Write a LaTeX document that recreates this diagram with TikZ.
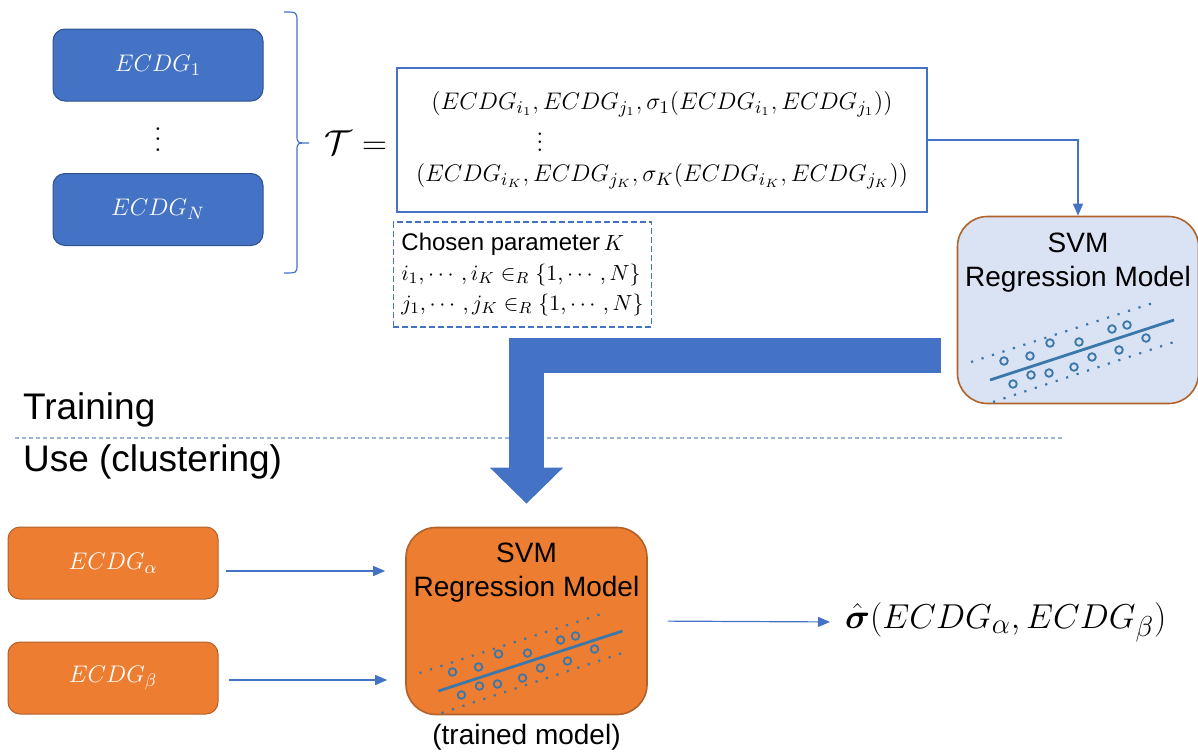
\documentclass[tikz,border=0pt]{standalone}
\usepackage{amsmath,amssymb}
\usepackage[no-math]{fontspec}
\usepackage{bm}
\setsansfont{Liberation Sans}
\usetikzlibrary{arrows.meta,positioning}

\definecolor{ecdgblue}{HTML}{4472C4}
\definecolor{ecdgblueline}{HTML}{2F528F}
\definecolor{ecdgorange}{HTML}{ED7D31}
\definecolor{orangeline}{HTML}{B0622A}
\definecolor{svmfill}{HTML}{DAE3F3}
\definecolor{plotblue}{HTML}{3A78AC}
\definecolor{sepblue}{HTML}{9DB4DE}

\begin{document}
\begin{tikzpicture}[x=0.5pt,y=-0.5pt,
    ecdg/.style={draw=ecdgblueline,fill=ecdgblue,line width=0.5pt,rounded corners=6pt,
      minimum width=105pt,minimum height=36pt,text=white,font=\fontsize{13}{15}\selectfont},
    ecdgorg/.style={ecdg,draw=orangeline,fill=ecdgorange},
    svmbox/.style={draw=orangeline,line width=0.8pt,rounded corners=15pt,
      minimum width=120.5pt,minimum height=93.5pt},
    svmtext/.style={anchor=north,align=center,font=\sffamily\fontsize{14}{17}\selectfont},
    biglabel/.style={anchor=west,font=\sffamily\fontsize{18.5}{20}\selectfont},
    flow/.style={draw=ecdgblue,line width=0.6pt,-{Triangle[length=6pt,width=5pt]}},
    dotline/.style={line width=1.1pt,dash pattern=on 1.1pt off 4.4pt},
    pics/svmplot/.style={code={
      \draw[plotblue,line width=1.4pt] (-88,70) -- (96,10);
      \draw[plotblue,dotline] (-107,52) -- (78,-8);
      \draw[plotblue,dotline] (-85,92) -- (102,30);
      \foreach \px/\py in {-74/51,-48/46,-28/33,1/32,34/19,49/15,68/28,41/40,14/47,-4/57,-29/63,-47/65,-65/74}
        \draw[plotblue,line width=0.9pt] (\px,\py) circle[radius=1.9pt];
    }}]
  \useasboundingbox (0,0) rectangle (1198,755);

  \node[ecdg] (e1) at (158,65) {$ECDG_1$};
  \node[anchor=base] (edots) at (158,151) {\scalebox{1.3}{$\vdots$}};
  \node[ecdg] (eN) at (158,209.5) {$ECDG_N$};
  \draw[ecdgblue,line width=0.6pt] (284,12) .. controls (297,12) .. (297,22) -- (297,135)
    .. controls (297,143) .. (309,143) .. controls (297,143) .. (297,151) -- (297,264)
    .. controls (297,273) .. (284,273);

  \node[font=\fontsize{18}{20}\selectfont] (teq) at (356,143) {$\mathcal{T} =$};
  \node[draw=ecdgblue,line width=1pt,minimum width=265pt,minimum height=72pt,align=center,
    font=\fontsize{13}{18}\selectfont] (tset) at (662,140)
    {$(ECDG_{i_1}, ECDG_{j_1}, \sigma_1(ECDG_{i_1}, ECDG_{j_1}))$\\
     \hspace*{-122pt}\raisebox{-3pt}{\smash{$\vdots$}}\\
     $(ECDG_{i_K}, ECDG_{j_K}, \sigma_K(ECDG_{i_K}, ECDG_{j_K}))$};
  \node[draw=ecdgblue,line width=0.7pt,dash pattern=on 3pt off 1.5pt,minimum width=125pt,
    minimum height=52.5pt,inner xsep=4pt,align=left,
    font=\fontsize{11}{15}\selectfont] (chosen) at (522.5,274.5)
    {{\sffamily\fontsize{12}{15}\selectfont Chosen parameter}$\,K$\\
     $i_1,\cdots,i_K \in_R \{1,\cdots,N\}$\\
     $j_1,\cdots,j_K \in_R \{1,\cdots,N\}$};

  \node[svmbox,fill=svmfill] (svmtrain) at (1078,310) {};
  \node[svmtext] (svmtrainlbl) at ([yshift=-5pt]svmtrain.north) {SVM\\Regression Model};
  \pic at (svmtrain.center) {svmplot};
  \draw[flow] (tset.east) -| (svmtrain.north);

  \node[biglabel] (trainlbl) at (16,410) {Training};
  \node[biglabel] (uselbl) at (16,462) {Use (clustering)};
  \draw[sepblue,line width=0.7pt,dash pattern=on 2pt off 1.5pt] (15,438) -- (1065,438);

  \node[ecdgorg] (alpha) at (113,563) {$ECDG_\alpha$};
  \node[ecdgorg] (beta) at (113,678) {$ECDG_\beta$};
  \node[svmbox,fill=ecdgorange] (svmuse) at (526.5,621) {};
  \node[svmtext] (svmuselbl) at ([yshift=-4.5pt]svmuse.north) {SVM\\Regression Model};
  \pic at (svmuse.center) {svmplot};
  \node[below=1pt of svmuse,font=\sffamily\fontsize{14}{17}\selectfont] (trainedlbl) {(trained model)};

  \draw[ecdgblue,line width=17.5pt,-{Triangle[length=18pt,width=35.5pt]},shorten >=11.5pt]
    ([xshift=-8pt,yshift=-22.5pt]svmtrain.west) -| (svmuse.north);

  \draw[flow,shorten <=3.5pt,shorten >=10pt] ([yshift=-4pt]alpha.east) -- ([yshift=-4pt]alpha.east -| svmuse.west);
  \draw[flow,shorten <=5pt,shorten >=9pt] ([yshift=-1pt]beta.east) -- ([yshift=-1pt]beta.east -| svmuse.west);

  \node[anchor=west,font=\fontsize{19}{21}\selectfont] (sigmahat) at (838,622)
    {$\hat{\bm{\sigma}}(ECDG_\alpha, ECDG_\beta)$};
  \draw[flow,shorten <=10pt,shorten >=4pt] (svmuse.east) -- (sigmahat.west);
\end{tikzpicture}
\end{document}
